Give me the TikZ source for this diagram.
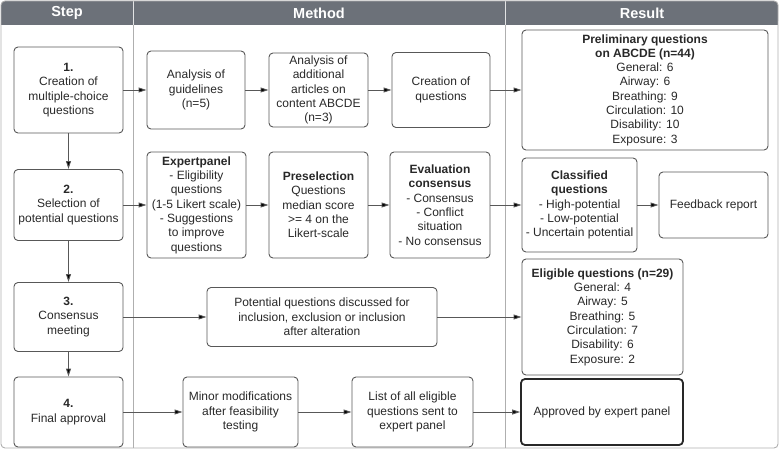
\documentclass[tikz,border=0pt]{standalone}
\usepackage{fontspec}
\setmainfont{Liberation Sans}
\usetikzlibrary{arrows.meta,positioning}
\definecolor{headgray}{RGB}{108,113,121}
\definecolor{linegray}{RGB}{88,88,88}
\definecolor{rulegray}{RGB}{175,175,175}
\definecolor{txtgray}{RGB}{40,40,40}
\tikzset{font=\fontsize{12}{14.3}\selectfont}
\tikzstyle{box}=[draw=linegray,rounded corners=4pt,align=center,inner sep=1pt,text=txtgray,line width=0.9pt]
\tikzstyle{head}=[text=white,font=\fontsize{14.5}{16}\selectfont\bfseries]

\begin{document}
\begin{tikzpicture}[x=1pt,y=-1pt]
\useasboundingbox (0,0) rectangle (779,449);
% header and frame
\fill[headgray,rounded corners=4pt] (1,1) rectangle (778,25);
\fill[headgray] (1,14) rectangle (778,25);
\draw[rulegray,line width=0.9pt] (133,25) -- (133,448) (505,25) -- (505,448);
\draw[white!80!headgray,line width=0.9pt] (133,1) -- (133,25) (505,1) -- (505,25);
\draw[rulegray,line width=0.9pt,rounded corners=4pt] (1,1) rectangle (778,448);
\node[head] (HS) at (67,13) {Step};
\node[head] (HM) at (319,13) {Method};
\node[head] (HR) at (642,13) {Result};

% step column
\node[box,minimum width=109pt,minimum height=86pt] (S1) at (68.5,90) {\textbf{1.}\\Creation of\\multiple-choice\\questions};
\node[box,minimum width=109pt,minimum height=71pt] (S2) at (68.5,205) {\textbf{2.}\\Selection of\\potential questions};
\node[box,minimum width=109pt,minimum height=69pt] (S3) at (68.5,317) {\textbf{3.}\\Consensus\\meeting};
\node[box,minimum width=109pt,minimum height=70pt] (S4) at (68.5,412) {\textbf{4.}\\Final approval};

% row 1
\node[box,minimum width=98pt,minimum height=78pt] (G) at (196,90) {Analysis of\\guidelines\\(n=5)};
\node[box,minimum width=99pt,minimum height=74pt] (A) at (318.5,90) {Analysis of\\additional\\articles on\\content ABCDE\\(n=3)};
\node[box,minimum width=98pt,minimum height=75pt] (C) at (441,90) {Creation of\\questions};
\node[box,minimum width=246pt,minimum height=120pt] (PQ) at (645,90) {\textbf{Preliminary questions}\\\textbf{on ABCDE (n=44)}\\General: 6\\Airway: 6\\Breathing: 9\\Circulation: 10\\Disability: 10\\Exposure: 3};

% row 2
\node[box,minimum width=99pt,minimum height=106pt] (EP) at (196.5,205) {\textbf{Expertpanel}\\- Eligibility\\questions\\(1-5 Likert scale)\\- Suggestions\\to improve\\questions};
\node[box,minimum width=99pt,minimum height=106pt] (PS) at (318.5,205) {\textbf{Preselection}\\Questions\\median score\\>= 4 on the\\Likert-scale};
\node[box,minimum width=100pt,minimum height=106pt] (EC) at (440,205) {\textbf{Evaluation}\\\textbf{consensus}\\- Consensus\\- Conflict\\situation\\- No consensus};
\node[box,minimum width=115pt,minimum height=94pt] (CQ) at (579.5,205) {\textbf{Classified}\\\textbf{questions}\\- High-potential\\- Low-potential\\- Uncertain potential};
\node[box,minimum width=109pt,minimum height=66pt] (FR) at (713.5,205) {Feedback report};

% row 3
\node[box,minimum width=230pt,minimum height=59pt] (PD) at (322,317) {Potential questions discussed for\\inclusion, exclusion or inclusion\\after alteration};
\node[box,minimum width=161pt,minimum height=116pt] (EQ) at (602.5,317) {\textbf{Eligible questions (n=29)}\\General: 4\\Airway: 5\\Breathing: 5\\Circulation: 7\\Disability: 6\\Exposure: 2};

% row 4
\node[box,minimum width=115pt,minimum height=70pt] (MM) at (240.5,412) {Minor modifications\\after feasibility\\testing};
\node[box,minimum width=121pt,minimum height=70pt] (LS) at (412.5,412) {List of all eligible\\questions sent to\\expert panel};
\node[box,minimum width=162pt,minimum height=66pt,draw=txtgray,line width=1.8pt] (AP) at (602,412) {Approved by expert panel};

\path[->,draw=linegray,line width=0.9pt,>={Triangle[length=8pt,width=5pt]}]
(S1) edge (S2)
(S2) edge (S3)
(S3) edge (S4)
(S1) edge (G)
(G) edge (A)
(A) edge (C)
(C) edge (PQ)
(S2) edge (EP)
(EP) edge (PS)
(PS) edge (EC)
(EC) edge (CQ)
(CQ) edge (FR)
(S3) edge (PD)
(PD) edge (EQ)
(S4) edge (MM)
(MM) edge (LS)
(LS) edge (AP);
\end{tikzpicture}
\end{document}
